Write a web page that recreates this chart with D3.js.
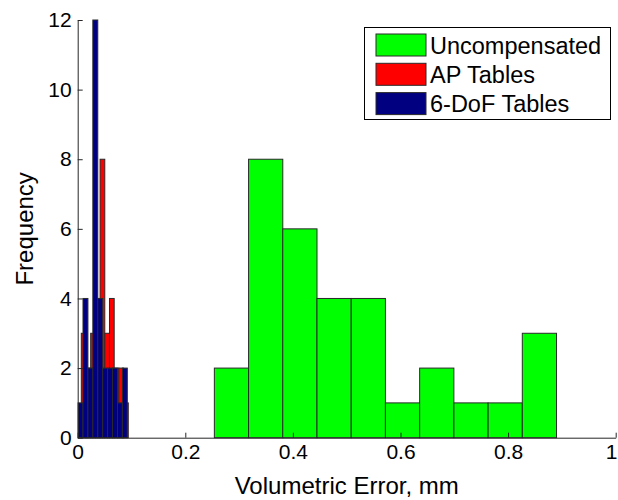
<!DOCTYPE html>
<html>
<head>
<meta charset="utf-8">
<script src="https://cdn.jsdelivr.net/npm/d3@7"></script>
<style>
  body { margin: 0; background: #fff; }
  svg text { font-family: "Liberation Sans", Arial, sans-serif; fill: #000; }
</style>
</head>
<body>
<div id="main"></div>
<script>
// histogram counts (10 bins per series)
const seriesNames = ['Uncompensated', 'AP Tables', '6-DoF Tables'];
const seriesColors = ['#00ff00', '#ff0000', '#000080'];
const uncompCounts = [2, 8, 6, 4, 4, 1, 2, 1, 1, 3];
const apCounts = [3, 2, 3, 4, 8, 3, 4, 2, 2, 1];
const dofCounts = [1, 4, 2, 12, 4, 2, 2, 2, 1, 2];
// bin ranges [min, max] of each series, mm
const uncompRange = [0.254, 0.890];
const apRange = [0.0067, 0.094];
const dofRange = [0.0007, 0.0922];
const xTicks = [0, 0.2, 0.4, 0.6, 0.8, 1];
const yTicks = [0, 2, 4, 6, 8, 10, 12];

const W = 618, H = 500,
    pad = { top: 20, left: 77.7, bottom: 62.3, right: 2.3 };

const x = d3.scaleLinear().domain([0, 1]).range([pad.left, W - pad.right]),
    y = d3.scaleLinear().domain([0, 12]).range([H - pad.bottom, pad.top]);

const toBins = (counts, range) => {
    const w = (range[1] - range[0]) / counts.length;
    return counts.map((c, i) => ({ x0: range[0] + i * w, x1: range[0] + (i + 1) * w, count: c }));
};

const series = [
    { name: seriesNames[0], color: seriesColors[0], bins: toBins(uncompCounts, uncompRange) },
    { name: seriesNames[1], color: seriesColors[1], bins: toBins(apCounts, apRange) },
    { name: seriesNames[2], color: seriesColors[2], bins: toBins(dofCounts, dofRange) }
];

const svg = d3.select('#main').append('svg')
    .attr('width', W)
    .attr('height', H);

svg.append('rect').attr('width', W).attr('height', H).attr('fill', '#fff');

// bars, drawn in series order so the blue ends up on top
series.forEach(s => {
    svg.append('g')
        .selectAll('rect')
        .data(s.bins)
        .enter()
        .append('rect')
        .attr('x', d => x(d.x0))
        .attr('y', d => y(d.count))
        .attr('width', d => x(d.x1) - x(d.x0))
        .attr('height', d => y(0) - y(d.count))
        .attr('fill', s.color)
        .attr('stroke', '#2a2a2a')
        .attr('stroke-width', 1);
});

// axes, ticks pointing inwards like matlab
const xAxis = svg.append('g')
    .attr('transform', 'translate(0,' + y(0) + ')')
    .call(d3.axisBottom(x).tickValues(xTicks).tickFormat(d3.format('')).tickSizeInner(-5).tickSizeOuter(0).tickPadding(6));

const yAxis = svg.append('g')
    .attr('transform', 'translate(' + x(0) + ',0)')
    .call(d3.axisLeft(y).tickValues(yTicks).tickSizeInner(-5).tickSizeOuter(0).tickPadding(6));

[xAxis, yAxis].forEach(a => {
    a.selectAll('path, line').attr('stroke', '#262626');
    a.selectAll('text').attr('font-size', 21).attr('fill', '#000');
});

// keep the last x label inside the window
xAxis.selectAll('.tick text')
    .filter(d => d === 1)
    .attr('text-anchor', 'end')
    .attr('dx', W - 1 - x(1));

svg.append('text')
    .attr('x', (x(0) + x(1)) / 2)
    .attr('y', 494)
    .attr('text-anchor', 'middle')
    .attr('font-size', 24)
    .attr('fill', '#262626')
    .text('Volumetric Error, mm');

svg.append('text')
    .attr('transform', 'translate(33,' + (y(0) + y(12)) / 2 + ') rotate(-90)')
    .attr('text-anchor', 'middle')
    .attr('font-size', 24)
    .attr('fill', '#262626')
    .text('Frequency');

// legend
const leg = svg.append('g').attr('id', 'legend');
leg.append('rect')
    .attr('x', 364.5).attr('y', 27.5)
    .attr('width', 246).attr('height', 92)
    .attr('fill', '#fff')
    .attr('stroke', '#000');

const legItem = leg.selectAll('g.item')
    .data(series)
    .enter()
    .append('g')
    .attr('class', 'item')
    .attr('transform', (d, i) => 'translate(376,' + (34 + i * 29.3) + ')');

legItem.append('rect')
    .attr('width', 50).attr('height', 22)
    .attr('fill', d => d.color)
    .attr('stroke', '#2a2a2a');

legItem.append('text')
    .attr('x', 54).attr('y', 19.5)
    .attr('font-size', 23.5)
    .text(d => d.name);
</script>
</body>
</html>
